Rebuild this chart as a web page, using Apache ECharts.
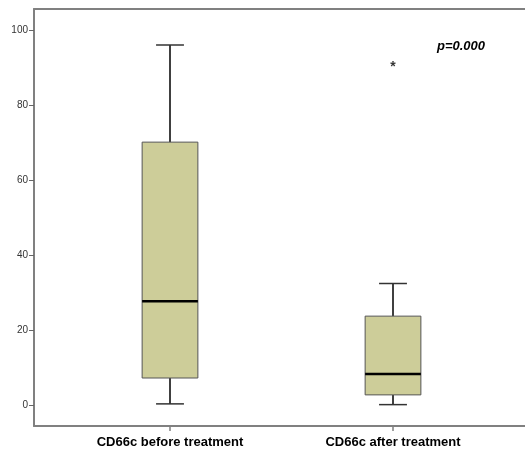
<!DOCTYPE html>
<html>
<head>
<meta charset="utf-8">
<script src="https://cdn.jsdelivr.net/npm/echarts@6/dist/echarts.min.js"></script>
<style>
html, body { margin: 0; padding: 0; background: #fff; }
#box { width: 525px; height: 452px; }
</style>
</head>
<body>
<div id="box"></div>
<script>
// 数据
let categories = ["CD66c before treatment", "CD66c after treatment"];
let mins = [0.3, 0.1];
let q1s = [7.2, 2.7];
let medians = [27.7, 8.3];
let q3s = [70.1, 23.7];
let maxs = [96, 32.4];
let outliers = [[1, 90.7]];
let yTicks = [0, 20, 40, 60, 80, 100];

let boxData = [];
for(let i = 0; i < categories.length; i++){
    boxData.push([i, mins[i], q1s[i], medians[i], q3s[i], maxs[i]]);
}

function renderBox(params, api){
    let x = api.value(0);
    let pMin = api.coord([x, api.value(1)]);
    let pQ1 = api.coord([x, api.value(2)]);
    let pMed = api.coord([x, api.value(3)]);
    let pQ3 = api.coord([x, api.value(4)]);
    let pMax = api.coord([x, api.value(5)]);
    let bw = api.size([1, 0])[0] * 0.25;
    let cw = bw / 2;
    let cx = pMed[0];
    return {
        type: "group",
        children: [
            {type: "line", shape: {x1: cx, y1: pQ3[1], x2: cx, y2: pMax[1]}, style: {stroke: "#000", lineWidth: 1.5}},
            {type: "line", shape: {x1: cx, y1: pQ1[1], x2: cx, y2: pMin[1]}, style: {stroke: "#000", lineWidth: 1.5}},
            {type: "line", shape: {x1: cx - cw / 2, y1: pMax[1], x2: cx + cw / 2, y2: pMax[1]}, style: {stroke: "#333", lineWidth: 1.5}},
            {type: "line", shape: {x1: cx - cw / 2, y1: pMin[1], x2: cx + cw / 2, y2: pMin[1]}, style: {stroke: "#333", lineWidth: 1.5}},
            {type: "rect", shape: {x: cx - bw / 2, y: pQ3[1], width: bw, height: pQ1[1] - pQ3[1]}, style: {fill: "#cdcd99", stroke: "#555", lineWidth: 1}},
            {type: "line", shape: {x1: cx - bw / 2, y1: pMed[1], x2: cx + bw / 2, y2: pMed[1]}, style: {stroke: "#000", lineWidth: 2.5}}
        ]
    };
}

let chart = echarts.init(document.getElementById("box"));
let yMin = -5.6, yMax = 105.6;
let opts = {
    animation: false,
    grid: [
        {left: 34, right: 0, top: 9, bottom: 26},
        {left: 58.5, right: 20.5, top: 9, bottom: 26}
    ],
    xAxis: [
        {gridIndex: 0, type: "value", min: 0, max: 1, position: "bottom",
         axisLine: {show: true, onZero: false, lineStyle: {color: "#808080", width: 2}},
         axisTick: {show: false}, axisLabel: {show: false}, splitLine: {show: false}},
        {gridIndex: 0, type: "value", min: 0, max: 1, position: "top",
         axisLine: {show: true, onZero: false, lineStyle: {color: "#808080", width: 2}},
         axisTick: {show: false}, axisLabel: {show: false}, splitLine: {show: false}},
        {gridIndex: 1, type: "category", data: categories, position: "bottom",
         axisLine: {show: false, onZero: false},
         axisTick: {show: true, alignWithLabel: true, length: 5, lineStyle: {color: "#808080", width: 1.5}},
         axisLabel: {margin: 10, color: "#000", fontFamily: "Liberation Sans, Arial", fontWeight: "bold", fontSize: 13}}
    ],
    yAxis: [
        {gridIndex: 0, type: "value", min: yMin, max: yMax,
         axisLine: {show: true, onZero: false, lineStyle: {color: "#808080", width: 2}},
         axisTick: {show: true, length: 5, customValues: yTicks, lineStyle: {color: "#666", width: 1}},
         axisLabel: {customValues: yTicks, margin: 6, color: "#333", fontFamily: "Liberation Sans, Arial", fontSize: 10},
         splitLine: {show: false}},
        {gridIndex: 1, type: "value", min: yMin, max: yMax, show: false}
    ],
    series: [
        {
            type: "custom",
            xAxisIndex: 2,
            yAxisIndex: 1,
            renderItem: renderBox,
            data: boxData
        },
        {
            type: "scatter",
            xAxisIndex: 2,
            yAxisIndex: 1,
            symbolSize: 1,
            itemStyle: {color: "transparent"},
            label: {show: true, position: "inside", formatter: "*", color: "#000", fontSize: 14, fontWeight: "bold", fontFamily: "Liberation Sans, Arial", offset: [0, 2]},
            data: outliers
        }
    ],
    graphic: [
        {type: "text", left: 437, top: 40,
         style: {text: "p=0.000", fill: "#000", font: "italic bold 13px 'Liberation Sans', Arial"}}
    ]
};
chart.setOption(opts);
</script>
</body>
</html>
